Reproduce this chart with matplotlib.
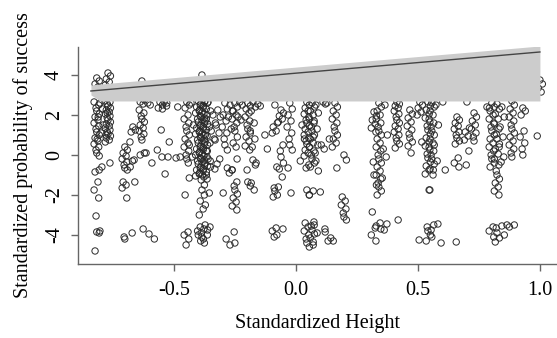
import numpy as np
import matplotlib
matplotlib.use("Agg")
import matplotlib.pyplot as plt

plt.rcParams['font.family'] = ['Liberation Serif', 'DejaVu Serif']

# x position of each vertical cluster of observations
col_x = [-0.816, -0.803, -0.783, -0.770, -0.701, -0.680, -0.668, -0.631, -0.607, -0.590,
         -0.557, -0.540, -0.529, -0.484, -0.447, -0.430, -0.400, -0.385, -0.372, -0.360,
         -0.340, -0.320, -0.291, -0.270, -0.250, -0.230, -0.197, -0.176, -0.156, -0.127,
         -0.086, -0.061, -0.025, 0.025, 0.045, 0.066, 0.082, 0.111, 0.127, 0.143,
         0.160, 0.197, 0.320, 0.340, 0.365, 0.414, 0.467, 0.508, 0.541, 0.557,
         0.574, 0.602, 0.660, 0.701, 0.730, 0.783, 0.803, 0.824, 0.844, 0.865,
         0.885, 0.930, 1.000]

# standardized probability values in each cluster
col_y = [
    [3.85, 3.7, 3.55, 3.4, 2.65, 2.5, 2.35, 2.2, 2.05, 1.9, 1.75, 1.6, 1.45, 1.3, 1.15, 1.0, 0.85, 0.7,
     0.55, 0.4, 0.25, 0.1, -0.05, -0.85, -1.35, -1.75, -2.15, -3.05, -3.85, -3.9, -4.8],
    [2.6, 2.3, 1.9, 1.1, 0.8, -0.6, -0.75, -3.8],
    [2.7, 2.1, 1.5, 1.0],
    [4.1, 3.95, 3.8, 3.65, 3.5, 2.65, 2.55, 2.45, 2.35, 2.25, 2.15, 2.05, 1.95, 1.85, 1.75, 1.65, 1.55,
     1.45, 1.35, 1.25, 1.15, 1.05, 0.95, 0.85, 0.75, 0.65, -0.4],
    [0.4, 0.25, 0.1, -0.05, -0.2, -0.35, -0.5, -0.65, -0.75, -1.35, -1.5, -1.65, -2.15, -4.1, -4.2],
    [0.65, -0.3],
    [1.4, 1.25, 1.15, -0.25, -0.6, -1.35, -3.9],
    [3.7, 2.75, 2.65, 2.55, 2.25, 2.1, 1.95, 1.8, 1.65, 1.5, 1.35, 1.2, 1.05, 0.9, 0.75, 0.1, 0.0, -3.7],
    [2.6, 2.5, 0.1, -3.95],
    [-0.4, -4.2],
    [2.65, 2.5, 2.35, 1.25, 0.25, -0.1],
    [2.65, 2.45, 2.3],
    [2.6, 0.65, -0.95, -0.1],
    [2.4, -0.1, -0.15],
    [2.65, 2.5, 2.35, 2.0, 1.8, 1.6, 1.4, 1.2, 1.0, 0.8, 0.6, 0.4, 0.2, 0.0, -0.2, -1.15, -2.0, -3.85,
     -4.0, -4.2, -4.5],
    [2.6, 1.5, 0.5, -0.1, -0.4],
    [2.7, 2.55, 2.4, 2.25, 2.1, 1.95, 1.8, 1.65, 1.5, 1.35, 1.2, 1.05, 0.9, 0.75, 0.6, 0.45, 0.3, 0.15,
     0.0, -0.15, -0.3, -0.45, -0.6, -0.75, -0.9, -1.05, -3.6, -3.8, -4.0, -4.3],
    [4.0, 2.65, 2.5, 2.35, 2.2, 2.05, 1.9, 1.75, 1.6, 1.45, 1.3, 1.15, 1.0, 0.85, 0.7, 0.55, 0.4, 0.25,
     0.1, -0.05, -0.2, -0.35, -0.5, -0.65, -0.8, -0.95, -1.1, -1.25, -1.75, -2.0, -2.3, -2.7, -3.0,
     -3.7, -3.9, -4.1, -4.4],
    [2.7, 2.6, 2.45, 2.3, 2.15, 2.0, 1.85, 1.7, 1.55, 1.4, 1.25, 1.1, 0.95, 0.8, 0.65, 0.5, 0.35, 0.2,
     0.05, -0.1, -0.25, -0.4, -0.55, -0.7, -0.85, -1.0, -1.2, -1.5, -3.5, -3.75, -4.2],
    [2.65, 2.2, 1.8, 1.4, 1.0, 0.6, 0.2, -0.2, -0.6, -1.0, -1.9, -2.5, -3.6, -4.0],
    [2.0, 1.6, 1.2, 0.8, -0.3, -0.7],
    [2.25, 1.9, 1.5, 1.1, 0.75, -0.2, -0.45],
    [2.6, 2.3, 2.0, 1.7, 1.4, 1.1, 0.8, 0.5, -0.65, -1.9, -4.2],
    [2.5, 2.2, 1.9, 1.3, 0.25, -0.75, -0.9, -4.5],
    [2.6, 2.4, 2.2, 2.0, 1.8, 1.6, 1.4, 1.2, 0.9, 0.6, 0.4, -0.75, -1.35, -1.55, -1.75, -1.95, -2.15,
     -2.35, -2.55, -2.75, -3.85, -4.4],
    [2.65, 2.5, 1.9, 1.75, -0.2],
    [2.6, 2.45, 2.3, 2.1, 1.9, 1.7, 1.5, 1.3, 1.1, 0.9, 0.7, 0.45, 0.25, -0.75, -1.35, -1.55],
    [2.65, 2.4, 2.2, 1.6, 1.2, 0.8, 0.4, -0.25, -0.5, -1.4, -1.75],
    [2.55, 2.45, -0.4],
    [1.0, 0.3],
    [2.5, 1.6, 1.4, 1.2, 1.1, -0.6, -1.65, -1.8, -2.0, -2.1, -3.65, -3.8, -4.0, -4.1],
    [2.25, 2.1, 1.95, 1.8, 1.65, 0.5, 0.2, -0.1, -0.4, -0.7, -1.1, -1.6, -3.7],
    [2.6, 2.3, 2.0, 1.7, 1.4, 1.1, 0.8, 0.5, 0.25, -0.65, -1.9],
    [1.5, 0.8, -0.3],
    [2.65, 2.5, 2.35, 2.2, 2.05, 1.9, 1.75, 1.6, 1.45, 1.3, 1.15, 1.0, 0.85, 0.7, 0.55, 0.4, 0.25, 0.1,
     -0.05, -0.5, -0.65, -1.75, -2.0, -3.4, -3.6, -3.8, -4.0, -4.2, -4.4],
    [2.6, 2.4, 2.2, 2.0, 1.8, 1.6, 1.4, 1.2, 1.0, 0.8, 0.6, 0.4, 0.2, 0.0, -0.2, -0.4, -0.6, -1.8, -2.0,
     -3.35, -3.55, -3.75, -3.95, -4.15, -4.35, -4.6],
    [2.5, 2.1, 1.7, 1.3, 0.9, 0.5, 0.1, -0.3, -0.8, -3.5, -3.9, -4.5],
    [2.65, 2.55, 0.5, 0.3, -1.85, -3.7],
    [2.6, 0.8, -3.85, -4.3],
    [-4.15, -4.3],
    [2.6, 2.4, 2.2, 2.0, 1.8, 1.6, 1.4, 1.2, 1.0, 0.8, 0.6, 0.4, -0.65],
    [0.0, -0.25, -2.1, -2.3, -2.5, -2.7, -2.9, -3.1, -3.25],
    [2.15, 1.95, 1.75, 1.55, 1.35, 1.15, -0.35, -1.0, -1.5, -2.85, -3.65, -4.0, -4.3],
    [2.6, 2.4, 2.2, 2.0, 1.8, 1.6, 1.4, 1.2, 1.0, 0.8, 0.6, 0.4, 0.2, 0.0, -0.2, -0.4, -0.6, -0.8,
     -1.0, -1.2, -1.4, -1.6, -1.8, -2.0, -3.4, -3.55, -3.7],
    [2.5, 1.0, 0.3, -0.1, -1.15, -3.45, -3.75],
    [2.65, 2.55, 2.45, 2.35, 2.2, 2.05, 1.9, 1.75, 1.6, 1.45, 1.3, 1.15, 1.0, 0.85, 0.7, 0.55, 0.35,
     -3.25],
    [2.25, 2.05, 1.85, 1.65, 1.45, 1.25, 1.05, 0.85, 0.65, 0.45, 0.1],
    [2.65, 2.5, 2.35, 2.15, 2.0, 0.65, -4.25],
    [2.65, 2.45, 2.25, 2.05, 1.85, 1.65, 1.45, 1.25, 1.05, 0.85, 0.65, 0.45, 0.25, 0.05, -0.15, -0.35,
     -0.55, -0.75, -0.95, -1.75, -3.6, -3.8, -4.0, -4.3],
    [2.6, 2.4, 2.2, 2.0, 1.8, 1.6, 1.4, 1.2, 1.0, 0.8, 0.6, 0.4, 0.2, 0.0, -0.2, -0.45, -0.7, -1.0,
     -1.75, -3.5, -3.75, -4.1],
    [2.5, 1.5, 0.5, -0.3, -0.75, -3.45],
    [2.65, -0.75, -4.4],
    [1.9, 1.75, 1.6, 1.45, 1.3, 1.15, 1.0, 0.85, 0.7, 0.55, -0.15, -0.4, -0.6, -4.35],
    [2.65, 1.35, 1.15, 0.95, 0.75, 0.2, -0.5],
    [2.1, 1.9, 1.7, 1.5, 1.3, 1.1, 0.9, 0.7],
    [2.4, 2.35],
    [2.6, 2.4, 2.2, 2.0, 1.8, 1.6, 1.4, 1.2, 1.0, 0.8, 0.6, 0.4, 0.2, 0.0, -0.2, -0.4, -0.6, -3.6,
     -3.8, -4.1],
    [2.55, 2.3, 2.05, 1.8, 1.55, 1.3, 1.05, 0.8, 0.55, 0.3, 0.05, -0.2, -0.5, -0.8, -1.0, -1.2, -1.4,
     -1.6, -1.8, -2.0, -3.65, -3.9, -4.15, -4.35],
    [2.4, 1.9, 1.4, 0.9, 0.4, -0.1, -0.35, -3.55, -4.0],
    [-3.5, -3.6],
    [2.7, 2.5, 2.3, 2.1, 1.9, 1.7, 1.5, 1.3, 1.1, 0.9, 0.7, 0.5, 0.3, 0.1, -0.1, -3.5],
    [2.35, 2.2, 2.0, 1.2, 0.9, 0.6, 0.3, 0.0],
    [3.75, 3.55, 3.35, 3.15, 0.95],
]

# fitted line and its shaded band
line_x = [-0.84, 1.0]
line_y = [3.2, 5.15]
band_x = [-0.84, -0.80, 1.0]
band_low = [3.0, 2.7, 2.7]
band_high = [3.5, 3.55, 5.45]

# small fixed horizontal spread used to unstack points within a cluster
spread = [0.0, 0.010, -0.007, 0.005, -0.011, 0.008, -0.003]

xs, ys = [], []
for x, vals in zip(col_x, col_y):
    for i, v in enumerate(vals):
        xs.append(x + spread[i % len(spread)])
        ys.append(v)

fig = plt.figure(figsize=(5.57, 3.38), dpi=100)
ax = fig.add_axes([0.140, 0.219, 0.860, 0.642])

ax.scatter(xs, ys, s=21, facecolors='none', edgecolors='#2a2a2a', linewidths=0.7, zorder=1)
ax.fill_between(band_x, band_low, band_high, color='#cccccc', lw=0, zorder=2)
ax.plot(line_x, line_y, color='#444444', lw=1.0, zorder=3)

ax.set_xlim(-0.893, 1.07)
ax.set_ylim(-5.45, 5.4)
ax.set_xticks([-0.5, 0.0, 0.5, 1.0])
ax.set_xticklabels(['-0.5', '0.0', '0.5', '1.0'])
ax.set_yticks([-4, -2, 0, 2, 4])
ax.set_yticklabels(['-4', '-2', '0', '2', '4'], rotation=90, va='center')

for side in ['top', 'right']:
    ax.spines[side].set_visible(False)
for side in ['left', 'bottom']:
    ax.spines[side].set_color('#666666')
    ax.spines[side].set_linewidth(1.0)
ax.tick_params(direction='out', length=5, width=1.0, color='#666666', labelsize=14.5)
ax.tick_params(axis='x', pad=7)
ax.tick_params(axis='y', pad=5)

ax.set_xlabel('Standardized Height', fontsize=14.5, labelpad=10)
ax.set_ylabel('Standardized probability of success', fontsize=14.5, labelpad=9)

fig.savefig('out.png', dpi=100)
